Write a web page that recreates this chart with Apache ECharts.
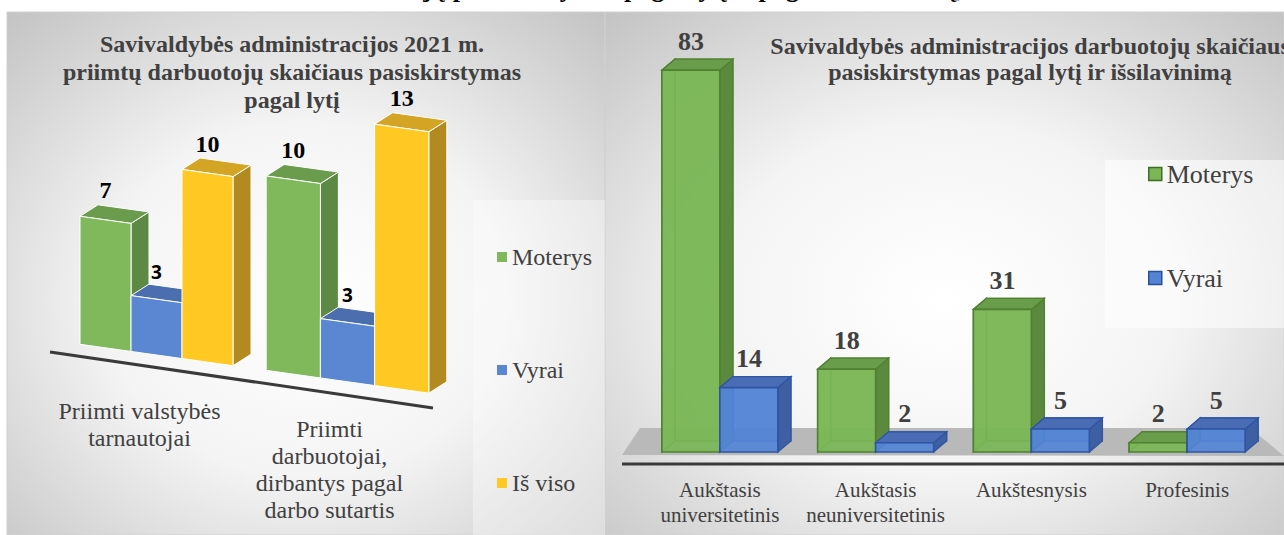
<!DOCTYPE html>
<html>
<head>
<meta charset="utf-8">
<script src="https://cdn.jsdelivr.net/npm/echarts@6/dist/echarts.min.js"></script>
<style>
html, body { margin: 0; padding: 0; background: #fff; }
#chart { width: 1284px; height: 535px; }
</style>
</head>
<body>
<div id="chart"></div>
<script>
// left chart: hires of 2021
const hireCategories = ['Priimti valstybės\ntarnautojai', 'Priimti\ndarbuotojai,\ndirbantys pagal\ndarbo sutartis'];
const hireWomen = [7, 10];
const hireMen = [3, 3];
const hireTotal = [10, 13];

// right chart: staff by education
const eduCategories = ['Aukštasis\nuniversitetinis', 'Aukštasis\nneuniversitetinis', 'Aukštesnysis', 'Profesinis'];
const eduWomen = [83, 18, 31, 2];
const eduMen = [14, 2, 5, 5];

const SERIF = 'Liberation Serif, Times New Roman, serif';
const INK = '#404040';
const LEFT_SLOPE = 0.14;   // floor drops to the right
const LEFT_GROW = 0.00033; // bars get bigger to the right

const lookGreen = {front: '#7fb95c', side: '#5e8944', top: '#6b9c4e', font: 'bold 24px ' + SERIF};
const lookBlue = {front: '#5b87d2', side: '#3f62a4', top: '#4b6eae', font: 'bold 19px Open Sans, sans-serif'};
const lookGold = {front: '#ffc822', side: '#b38a20', top: '#d4a424', font: 'bold 24px ' + SERIF};

function toPairs(arr) {
    return arr.map((v, i) => [i, v]);
}

function leftBoxes(slot, look) {
    return function (params, api) {
        const cat = api.value(0);
        const val = api.value(1);
        const base = api.coord([cat, 0]);
        const top = api.coord([cat, val]);
        const xRef = api.coord([0, 0])[0];
        const grow = 1 + LEFT_GROW * (base[0] - xRef);
        const w = 51 * grow, dx = 18, dy = -14;
        const x0 = base[0] - 1.5 * w + slot * w;
        const x1 = x0 + w;
        const xc = (x0 + x1) / 2;
        const hTop = base[1] - (base[1] - top[1]) * (1 + LEFT_GROW * (xc - xRef));
        const p = (x, y) => [x, y + LEFT_SLOPE * (x - xRef)];
        const fb0 = p(x0, base[1]), fb1 = p(x1, base[1]);
        const ft0 = p(x0, hTop), ft1 = p(x1, hTop);
        const bt0 = p(x0 + dx, hTop + dy), bt1 = p(x1 + dx, hTop + dy);
        const bb1 = p(x1 + dx, base[1] + dy);
        return {
            type: 'group',
            children: [
                {type: 'polygon', shape: {points: [fb1, bb1, bt1, ft1]}, style: {fill: look.side, stroke: '#fff', lineWidth: 1}},
                {type: 'polygon', shape: {points: [ft0, ft1, bt1, bt0]}, style: {fill: look.top, stroke: '#fff', lineWidth: 1}},
                {type: 'polygon', shape: {points: [fb0, fb1, ft1, ft0]}, style: {fill: look.front, stroke: '#fff', lineWidth: 1}},
                {
                    type: 'text', x: xc, y: (bt0[1] + bt1[1]) / 2 - 6,
                    style: {text: String(val), font: look.font, fill: '#000', align: 'center', verticalAlign: 'bottom'}
                }
            ]
        };
    };
}

const eduGreen = {front: 'rgba(122,182,86,0.92)', side: '#5b8a3f', top: '#6a9d4b', back: 'rgba(122,182,86,0.5)', line: '#4f8131'};
const eduBlue = {front: 'rgba(84,132,214,0.92)', side: '#3e5fa2', top: '#4a6cb4', back: 'rgba(84,132,214,0.5)', line: '#2f55a3'};

// see-through boxes, depth goes up and right
function eduBoxes(slot, look) {
    return function (params, api) {
        const cat = api.value(0);
        const val = api.value(1);
        const base = api.coord([cat, 0]);
        const top = api.coord([cat, val]);
        const w = 58, dx = 13, dy = -11;
        const x0 = base[0] - w + slot * w;
        const x1 = x0 + w;
        const yb = base[1], yt = top[1];
        const edge = {stroke: look.line, lineWidth: 1.3};
        return {
            type: 'group',
            children: [
                {type: 'rect', shape: {x: x0 + dx, y: yt + dy, width: w, height: yb - yt}, style: Object.assign({fill: look.back}, edge)},
                {type: 'polygon', shape: {points: [[x0, yb], [x0 + dx, yb + dy], [x0 + dx, yt + dy], [x0, yt]]}, style: Object.assign({fill: look.back}, edge)},
                {type: 'polygon', shape: {points: [[x1, yb], [x1 + dx, yb + dy], [x1 + dx, yt + dy], [x1, yt]]}, style: Object.assign({fill: look.side}, edge)},
                {type: 'polygon', shape: {points: [[x0, yt], [x1, yt], [x1 + dx, yt + dy], [x0 + dx, yt + dy]]}, style: Object.assign({fill: look.top}, edge)},
                {type: 'rect', shape: {x: x0, y: yt, width: w, height: yb - yt}, style: Object.assign({fill: look.front}, edge, {lineWidth: 1.6})},
                {
                    type: 'text', x: (x0 + x1) / 2, y: yt + dy - 5,
                    style: {text: String(val), font: 'bold 26px ' + SERIF, fill: INK, align: 'center', verticalAlign: 'bottom'}
                }
            ]
        };
    };
}

function panelFill() {
    return new echarts.graphic.RadialGradient(0.5, 0.55, 0.75, [
        {offset: 0, color: '#ffffff'},
        {offset: 0.45, color: '#f4f4f4'},
        {offset: 1, color: '#c2c2c2'}
    ]);
}

const chart = echarts.init(document.getElementById('chart'), null, {renderer: 'svg'});

chart.setOption({
    animation: false,
    textStyle: {fontFamily: SERIF},
    graphic: [
        {type: 'rect', z: -10, shape: {x: 7, y: 12, width: 598, height: 523}, style: {fill: panelFill(), stroke: '#d0d0d0', lineWidth: 1}},
        {type: 'rect', z: -10, shape: {x: 605, y: 12, width: 679, height: 523}, style: {fill: panelFill(), stroke: '#d0d0d0', lineWidth: 1}},
        {type: 'rect', z: -9, shape: {x: 473, y: 200, width: 132, height: 335}, style: {fill: 'rgba(255,255,255,0.35)'}},
        {type: 'rect', z: -9, shape: {x: 1105, y: 160, width: 179, height: 168}, style: {fill: 'rgba(255,255,255,0.55)'}},
        {type: 'polygon', z: -8, shape: {points: [[640, 428], [1250, 428], [1284, 456], [622, 455]]}, style: {fill: '#b9b9b9'}},
        {type: 'line', z: -8, shape: {x1: 622, y1: 464, x2: 1284, y2: 464}, style: {stroke: '#3a3a3a', lineWidth: 3}},
        {type: 'line', z: -8, shape: {x1: 50, y1: 352, x2: 433, y2: 408}, style: {stroke: '#3a3a3a', lineWidth: 3}},
        {
            // page heading above the charts, only its lowest part is in view
            type: 'text', x: 640, y: 1,
            style: {
                text: 'Darbuotojų pasiskirstymas pagal lytį ir pagal išsilavinimą,',
                font: 'bold 26px ' + SERIF, fill: '#000', align: 'center', verticalAlign: 'bottom'
            }
        }
    ],
    title: [
        {
            text: 'Savivaldybės administracijos 2021 m.\npriimtų darbuotojų skaičiaus pasiskirstymas\npagal lytį',
            left: 287, top: 25, textAlign: 'center',
            textStyle: {fontFamily: SERIF, fontSize: 24, fontWeight: 'bold', color: INK, lineHeight: 28}
        },
        {
            text: 'Savivaldybės administracijos darbuotojų skaičiaus\npasiskirstymas pagal lytį ir išsilavinimą',
            left: 1025, top: 28, textAlign: 'center',
            textStyle: {fontFamily: SERIF, fontSize: 24, fontWeight: 'bold', color: INK, lineHeight: 26}
        }
    ],
    legend: [
        {
            orient: 'vertical', left: 492, top: 240, itemGap: 89,
            icon: 'rect', itemWidth: 10, itemHeight: 10,
            textStyle: {fontFamily: SERIF, fontSize: 24, color: INK},
            data: ['Moterys', 'Vyrai', 'Iš viso']
        },
        {
            orient: 'vertical', left: 1143, top: 156, itemGap: 78,
            icon: 'rect', itemWidth: 13, itemHeight: 13,
            textStyle: {fontFamily: SERIF, fontSize: 26, color: INK},
            data: [
                {name: 'Moterys', itemStyle: {color: '#7ab656', borderColor: '#3f6d27', borderWidth: 1.5}},
                {name: 'Vyrai', itemStyle: {color: '#5484d6', borderColor: '#2a4f96', borderWidth: 1.5}}
            ]
        }
    ],
    grid: [
        {left: 61, right: 841, top: 76, bottom: 180},
        {left: 642, right: 19, top: 38, bottom: 83}
    ],
    xAxis: [
        {
            gridIndex: 0, type: 'category', data: hireCategories,
            axisLine: {show: false}, axisTick: {show: false},
            axisLabel: {
                margin: 42, interval: 0,
                formatter: (v, i) => (i === 0 ? '{a|' : '{b|') + v + '}',
                rich: {
                    a: {fontFamily: SERIF, fontSize: 24, lineHeight: 27, color: INK, padding: [0, 34, 0, 0]},
                    b: {fontFamily: SERIF, fontSize: 24, lineHeight: 27, color: INK, padding: [36, 36, 0, 0]}
                }
            }
        },
        {
            gridIndex: 1, type: 'category', data: eduCategories,
            axisLine: {show: false}, axisTick: {show: false},
            axisLabel: {margin: 25, interval: 0, fontFamily: SERIF, fontSize: 21, lineHeight: 25, color: INK}
        }
    ],
    yAxis: [
        {gridIndex: 0, type: 'value', min: 0, max: 15, show: false},
        {gridIndex: 1, type: 'value', min: 0, max: 90, show: false}
    ],
    series: [
        {name: 'Moterys', type: 'custom', xAxisIndex: 0, yAxisIndex: 0, itemStyle: {color: lookGreen.front}, renderItem: leftBoxes(0, lookGreen), data: toPairs(hireWomen)},
        {name: 'Vyrai', type: 'custom', xAxisIndex: 0, yAxisIndex: 0, itemStyle: {color: lookBlue.front}, renderItem: leftBoxes(1, lookBlue), data: toPairs(hireMen)},
        {name: 'Iš viso', type: 'custom', xAxisIndex: 0, yAxisIndex: 0, itemStyle: {color: lookGold.front}, renderItem: leftBoxes(2, lookGold), data: toPairs(hireTotal)},
        {name: 'Moterys', type: 'custom', xAxisIndex: 1, yAxisIndex: 1, itemStyle: {color: '#7ab656'}, renderItem: eduBoxes(0, eduGreen), data: toPairs(eduWomen)},
        {name: 'Vyrai', type: 'custom', xAxisIndex: 1, yAxisIndex: 1, itemStyle: {color: '#5484d6'}, renderItem: eduBoxes(1, eduBlue), data: toPairs(eduMen)}
    ]
});
</script>
</body>
</html>
